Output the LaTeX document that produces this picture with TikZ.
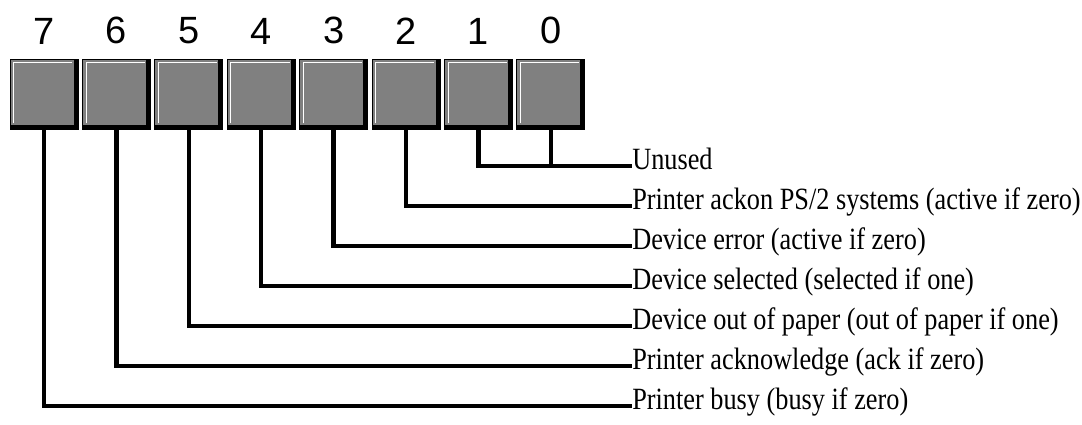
\documentclass[tikz,border=0pt]{standalone}
\usepackage{fontspec}
\usepackage{xcolor}
\usepackage{tikz}
\usetikzlibrary{positioning}
\newfontfamily\bitfont{Liberation Sans}
\newfontfamily\descfont[FakeStretch=0.85]{Liberation Serif}
\definecolor{regfill}{HTML}{808080}

\begin{document}
\begin{tikzpicture}[
		x=0.025cm,y=-0.025cm,
		reg/.style={draw,line width=0.6pt,fill=regfill,minimum width=1.7cm,minimum height=1.75cm,inner sep=0pt,
			path picture={
				\draw[white,line width=0.7pt] ([shift={(0.09cm,0.14cm)}]path picture bounding box.south west) |- ([shift={(-0.14cm,-0.09cm)}]path picture bounding box.north east);
				\draw[black,line width=0.22cm] (path picture bounding box.north east) |- (path picture bounding box.south west);
			}},
		bit/.style={font=\bitfont\fontsize{27}{27}\selectfont,inner sep=0pt},
		desc/.style={anchor=west,inner sep=0pt,font=\descfont\fontsize{22}{22}\selectfont,text height=0.72em,text depth=0.25em},
		wire/.style={line width=0.11cm}
		]
		\useasboundingbox (0,0) rectangle (1082,425);

		% register bits, 7 on the left
		\node[reg] (b7) at (44,94) {};
		\node[reg] (b6) at (116.4,94) {};
		\node[reg] (b5) at (188.8,94) {};
		\node[reg] (b4) at (261.2,94) {};
		\node[reg] (b3) at (333.6,94) {};
		\node[reg] (b2) at (406,94) {};
		\node[reg] (b1) at (478.4,94) {};
		\node[reg] (b0) at (550.8,94) {};

		\node[bit,above=0.35cm of b7] (d7) {7};
		\node[bit,above=0.35cm of b6] (d6) {6};
		\node[bit,above=0.35cm of b5] (d5) {5};
		\node[bit,above=0.35cm of b4] (d4) {4};
		\node[bit,above=0.35cm of b3] (d3) {3};
		\node[bit,above=0.35cm of b2] (d2) {2};
		\node[bit,above=0.35cm of b1] (d1) {1};
		\node[bit,above=0.35cm of b0] (d0) {0};

		% meanings
		\node[desc] (l1) at (632,166) {Unused};
		\node[desc] (l2) at (632,206) {Printer ackon PS/2 systems (active if zero)};
		\node[desc] (l3) at (632,246) {Device error (active if zero)};
		\node[desc] (l4) at (632,286) {Device selected (selected if one)};
		\node[desc] (l5) at (632,326) {Device out of paper (out of paper if one)};
		\node[desc] (l6) at (632,366) {Printer acknowledge (ack if zero)};
		\node[desc] (l7) at (632,406) {Printer busy (busy if zero)};

		\draw[wire] (b0.south) -- (b0.south |- l1.west);
		\draw[wire] (b1.south) |- (l1.west);
		\draw[wire] (b2.south) |- (l2.west);
		\draw[wire] (b3.south) |- (l3.west);
		\draw[wire] (b4.south) |- (l4.west);
		\draw[wire] (b5.south) |- (l5.west);
		\draw[wire] (b6.south) |- (l6.west);
		\draw[wire] (b7.south) |- (l7.west);
	\end{tikzpicture}
\end{document}
